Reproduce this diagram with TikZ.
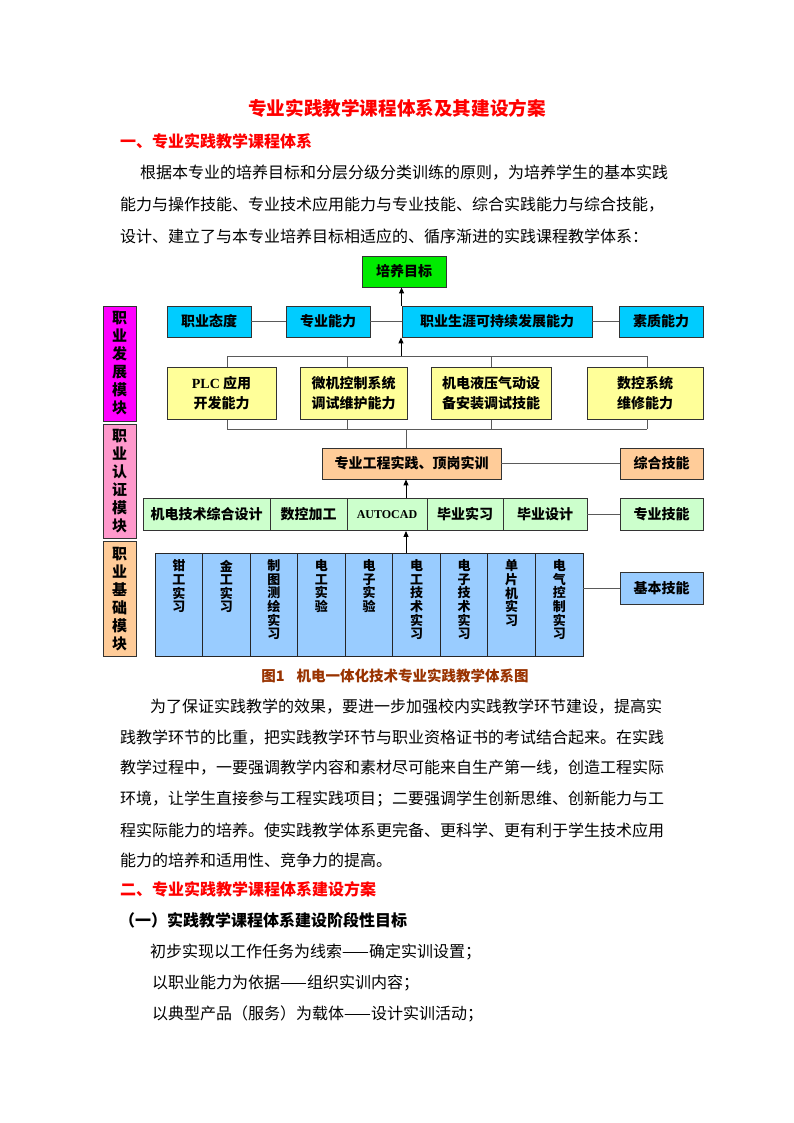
\documentclass[tikz,border=0pt]{standalone}
\usepackage{fontspec}
\setmainfont{Noto Sans CJK SC}
\newfontfamily\latinserif{Liberation Serif}
\usetikzlibrary{arrows.meta}
\definecolor{cGoal}{RGB}{0,235,0}
\definecolor{cCyan}{RGB}{0,204,255}
\definecolor{cYel}{RGB}{255,255,153}
\definecolor{cOra}{RGB}{255,204,153}
\definecolor{cLGreen}{RGB}{204,255,204}
\definecolor{cBank}{RGB}{153,204,255}
\definecolor{cMag}{RGB}{255,0,255}
\definecolor{cPink}{RGB}{255,153,204}
\definecolor{cRed}{RGB}{255,0,0}
\definecolor{cBrown}{RGB}{153,51,0}
\definecolor{cLine}{RGB}{90,90,90}
\begin{document}
\begin{tikzpicture}[x=1pt,y=-1pt,
  box/.style={draw=black!80, line width=0.9pt, inner sep=0pt, align=center,
    font=\bfseries\fontsize{14}{20}\selectfont},
  side/.style={box, minimum width=33, font=\bfseries\fontsize{15}{18}\selectfont},
  bankcell/.style={draw=black!85, line width=0.9pt, fill=cBank, minimum width=47.56, minimum height=103, inner sep=0pt},
  banktxt/.style={inner sep=0pt, align=center, anchor=north, font=\bfseries\fontsize{13}{13.6}\selectfont},
  conn/.style={draw=cLine, line width=1pt},
  arr/.style={draw=black, line width=1pt, -{Triangle[length=6pt,width=5pt]}},
  txt/.style={anchor=west, inner sep=0pt, font=\fontsize{16}{18}\selectfont},
  hd/.style={anchor=west, inner sep=0pt, text=cRed, font=\bfseries\fontsize{16}{18}\selectfont}
]
\useasboundingbox[fill=white] (0,0) rectangle (794,1123);

% ---------- text above ----------
\node[inner sep=0pt, text=cRed, font=\bfseries\fontsize{18.6}{20}\selectfont] (title) at (397,108) {专业实践教学课程体系及其建设方案};
\node[hd] (h1) at (120,141) {一、专业实践教学课程体系};
\node[txt] (p1) at (140,173) {根据本专业的培养目标和分层分级分类训练的原则，为培养学生的基本实践};
\node[txt] (p2) at (120,205) {能力与操作技能、专业技术应用能力与专业技能、综合实践能力与综合技能，};
\node[txt] (p3) at (120,236) {设计、建立了与本专业培养目标相适应的、循序渐进的实践课程教学体系：};

% ---------- bus coordinates ----------
\coordinate (ub1) at (227,356);
\coordinate (ub2) at (347,356);
\coordinate (ub3) at (491,356);
\coordinate (ub4) at (647,356);
\coordinate (ubA) at (401,356);
\coordinate (lb1) at (227,429);
\coordinate (lb2) at (347,429);
\coordinate (lb3) at (491,429);
\coordinate (lb4) at (647,429);
\coordinate (lbA) at (406,429);
\draw[conn] (ub1) -- (ub4);
\draw[conn] (lb1) -- (lb4);
\draw[conn] (ub1) -- (lb1);
\draw[conn] (ub2) -- (lb2);
\draw[conn] (ub3) -- (lb3);
\draw[conn] (ub4) -- (lb4);

% ---------- sidebar ----------
\node[side, fill=cMag, minimum height=115] (s1) at (119.5,363.5) {职\\业\\发\\展\\模\\块};
\node[side, fill=cPink, minimum height=114] (s2) at (119.5,481) {职\\业\\认\\证\\模\\块};
\node[side, fill=cOra, minimum height=115] (s3) at (119.5,599) {职\\业\\基\\础\\模\\块};

% ---------- goal & top row ----------
\node[box, fill=cGoal, minimum width=84, minimum height=31] (goal) at (404,271.5) {培养目标};
\node[box, fill=cCyan, minimum width=84, minimum height=31] (att) at (209,321.5) {职业态度};
\node[box, fill=cCyan, minimum width=84, minimum height=31] (prof) at (328,321.5) {专业能力};
\node[box, fill=cCyan, minimum width=190, minimum height=31] (career) at (497,321.5) {职业生涯可持续发展能力};
\node[box, fill=cCyan, minimum width=84, minimum height=31] (qual) at (661,321.5) {素质能力};
\draw[conn] (att.east) -- (prof.west);
\draw[conn] (prof.east) -- (career.west);
\draw[conn] (career.east) -- (qual.west);
\draw[arr] (career.north west) -- (career.north west |- goal.south);
\draw[arr] (ubA) -- (ubA |- career.south);

% ---------- yellow row ----------
\node[box, fill=cYel, minimum width=109, minimum height=52] (plc) at (221.5,393.5) {{\latinserif\bfseries PLC} 应用\\开发能力};
\node[box, fill=cYel, minimum width=107, minimum height=52] (mc) at (353.5,393.5) {微机控制系统\\调试维护能力};
\node[box, fill=cYel, minimum width=120, minimum height=52] (hyd) at (491,393.5) {机电液压气动设\\备安装调试技能};
\node[box, fill=cYel, minimum width=116, minimum height=52] (cnc) at (645,393.5) {数控系统\\维修能力};

% ---------- orange row ----------
\node[box, fill=cOra, minimum width=179, minimum height=31] (pract) at (411.5,463.5) {专业工程实践、顶岗实训};
\node[box, fill=cOra, minimum width=83, minimum height=31] (comp) at (661.5,463.5) {综合技能};
\draw[conn] (lbA) -- (lbA |- pract.north);
\draw[conn] (pract.east) -- (comp.west);

% ---------- light green row ----------
\node[box, fill=cLGreen, minimum width=127, minimum height=32] (g1) at (206.5,514.5) {机电技术综合设计};
\node[box, fill=cLGreen, minimum width=77, minimum height=32] (g2) at (308.5,514.5) {数控加工};
\node[box, fill=cLGreen, minimum width=80, minimum height=32] (g3) at (387,514.5) {\latinserif\bfseries\fontsize{12}{13}\selectfont AUTOCAD};
\node[box, fill=cLGreen, minimum width=76, minimum height=32] (g4) at (465,514.5) {毕业实习};
\node[box, fill=cLGreen, minimum width=84, minimum height=32] (g5) at (545,514.5) {毕业设计};
\node[box, fill=cLGreen, minimum width=83, minimum height=32] (spec) at (661.5,514.5) {专业技能};
\draw[conn] (g5.east) -- (spec.west);
\draw[arr] (lbA |- g3.north) -- (lbA |- pract.south);

% ---------- bank ----------
\foreach \i/\t in {1/{钳\\工\\实\\习},2/{金\\工\\实\\习},3/{制\\图\\测\\绘\\实\\习},4/{电\\工\\实\\验},5/{电\\子\\实\\验},6/{电\\工\\技\\术\\实\\习},7/{电\\子\\技\\术\\实\\习},8/{单\\片\\机\\实\\习},9/{电\\气\\控\\制\\实\\习}}{
  \node[bankcell] (k\i) at ({155+47.56*(\i-0.5)},604.5) {};
  \node[banktxt, yshift=-7pt] (kt\i) at (k\i.north) {\t};
}
\node[box, fill=cBank, minimum width=83, minimum height=32] (basic) at (661.5,588) {基本技能};
\draw[conn] (basic.west -| k9.east) -- (basic.west);
\draw[arr] (lbA |- k6.north) -- (lbA |- g3.south);

% ---------- caption ----------
\node[inner sep=0pt, text=cBrown, font=\bfseries\fontsize{14.5}{16}\selectfont] (cap) at (395,676) {图1\hspace{12pt}机电一体化技术专业实践教学体系图};

% ---------- text below ----------
\node[txt] (q1) at (150,707) {为了保证实践教学的效果，要进一步加强校内实践教学环节建设，提高实};
\node[txt] (q2) at (120,738) {践教学环节的比重，把实践教学环节与职业资格证书的考试结合起来。在实践};
\node[txt] (q3) at (120,768) {教学过程中，一要强调教学内容和素材尽可能来自生产第一线，创造工程实际};
\node[txt] (q4) at (120,799) {环境，让学生直接参与工程实践项目；二要强调学生创新思维、创新能力与工};
\node[txt] (q5) at (120,830) {程实际能力的培养。使实践教学体系更完备、更科学、更有利于学生技术应用};
\node[txt] (q6) at (120,860) {能力的培养和适用性、竞争力的提高。};
\node[hd] (h2) at (120,889) {二、专业实践教学课程体系建设方案};
\node[txt, font=\bfseries\fontsize{16}{18}\selectfont] (h3) at (119,920) {（一）实践教学课程体系建设阶段性目标};
\node[txt] (r1) at (150,952) {初步实现以工作任务为线索——确定实训设置；};
\node[txt] (r2) at (152,983) {以职业能力为依据——组织实训内容；};
\node[txt] (r3) at (152,1014) {以典型产品（服务）为载体——设计实训活动；};
\end{tikzpicture}
\end{document}
